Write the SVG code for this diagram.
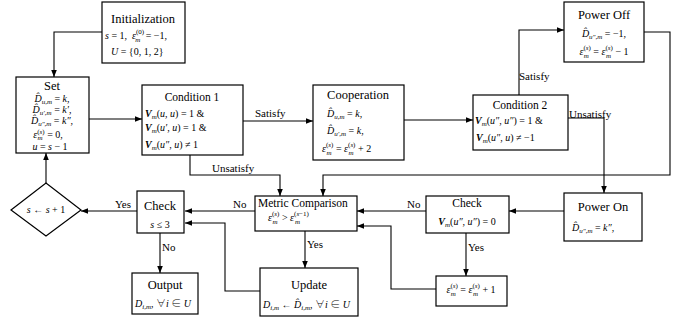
<svg xmlns="http://www.w3.org/2000/svg" width="691" height="324" viewBox="0 0 691 324" font-family="Tinos, 'Noto Serif CJK SC', 'DejaVu Serif', serif">
<style>
text{fill:#000;font-family:Tinos,'Noto Serif CJK SC','DejaVu Serif',serif}
.h{font-size:12.5px;text-anchor:middle}
.h2{font-size:11.5px;text-anchor:middle}
.m{font-size:10px}
.c{text-anchor:middle}
.i{font-style:italic}
.b{font-weight:bold;font-style:italic}
.s{font-size:7px}
.l{font-size:11px}
rect,polygon{fill:#fff;stroke:#000;stroke-width:1.2}
.e path{fill:none;stroke:#000;stroke-width:1.1;marker-end:url(#a)}
</style>
<defs>
<marker id="a" viewBox="0 0 10 10" refX="10" refY="5" markerWidth="7" markerHeight="7" markerUnits="userSpaceOnUse" orient="auto"><path d="M0,1 L10,5 L0,9 z" fill="#000"/></marker>
</defs>

<g class="e" id="connectors">
<path d="M102,32 H54 V77"/>
<path d="M89,119 H142"/>
<path d="M243,121 H313"/>
<path d="M404,120 H473"/>
<path d="M519,95 V30 H564"/>
<path d="M644,32 H670 V175 H323 V196"/>
<path d="M568,118 H604 V193"/>
<path d="M564,211 H509"/>
<path d="M426,211 H357"/>
<path d="M466,233 V276"/>
<path d="M436,289 H391 V226 H357"/>
<path d="M190,155 V175 H280 V196"/>
<path d="M255,211 H185"/>
<path d="M305,231 V268"/>
<path d="M260,291 H225 V223 H185"/>
<path d="M137,211 H81"/>
<path d="M46,183 V153"/>
<path d="M160,233 V273"/>
</g>

<g id="labels" class="l">
<text x="255" y="117">Satisfy</text>
<text x="212" y="172">Unsatisfy</text>
<text x="519" y="80">Satisfy</text>
<text x="569" y="118">Unsatisfy</text>
<text x="233" y="208">No</text>
<text x="407" y="208">No</text>
<text x="115" y="208">Yes</text>
<text x="307" y="248">Yes</text>
<text x="468" y="251">Yes</text>
<text x="162" y="251">No</text>
</g>

<g id="init">
<rect x="102" y="2" width="83" height="61"/>
<text class="h" x="143" y="23">Initialization</text>
<text class="m" x="105" y="39"><tspan class="i">s</tspan> = 1,<tspan class="i" dx="5">ε</tspan><tspan class="s" dy="-5">(0)</tspan><tspan class="s i" dx="-9" dy="8">m</tspan><tspan dy="-3" dx="3"> = −1,</tspan></text>
<text class="m" x="111" y="55"><tspan class="i">U</tspan> = {0, 1, 2}</text>
</g>

<g id="set">
<rect x="16" y="77" width="73" height="76"/>
<text class="h" x="52" y="90">Set</text>
<text class="m c" x="52" y="102"><tspan class="i">D̂</tspan><tspan class="s i" dy="2">u,m</tspan><tspan dy="-2"> = </tspan><tspan class="i">k</tspan>,</text>
<text class="m c" x="52" y="113"><tspan class="i">D̂</tspan><tspan class="s i" dy="2">u′,m</tspan><tspan dy="-2"> = </tspan><tspan class="i">k′</tspan>,</text>
<text class="m c" x="52" y="124"><tspan class="i">D̂</tspan><tspan class="s i" dy="2">u″,m</tspan><tspan dy="-2"> = </tspan><tspan class="i">k″</tspan>,</text>
<text class="m c" x="48" y="138"><tspan class="i">ε</tspan><tspan class="s" dy="-4">(</tspan><tspan class="s i">s</tspan><tspan class="s">)</tspan><tspan class="s i" dx="-7" dy="6">m</tspan><tspan dy="-2" dx="2"> = 0,</tspan></text>
<text class="m c" x="50" y="150"><tspan class="i">u</tspan> = <tspan class="i">s</tspan> − 1</text>
</g>

<g id="cond1">
<rect x="142" y="85" width="101" height="70"/>
<text class="h2" x="192" y="101">Condition 1</text>
<text class="m" x="145" y="117"><tspan class="b">V</tspan><tspan class="s i" dy="2">m</tspan><tspan dy="-2">(</tspan><tspan class="i">u</tspan>, <tspan class="i">u</tspan>) = 1 &amp;</text>
<text class="m" x="145" y="131"><tspan class="b">V</tspan><tspan class="s i" dy="2">m</tspan><tspan dy="-2">(</tspan><tspan class="i">u′</tspan>, <tspan class="i">u</tspan>) = 1 &amp;</text>
<text class="m" x="145" y="148"><tspan class="b">V</tspan><tspan class="s i" dy="2">m</tspan><tspan dy="-2">(</tspan><tspan class="i">u″</tspan>, <tspan class="i">u</tspan>) ≠ 1</text>
</g>

<g id="coop">
<rect x="313" y="85" width="91" height="75"/>
<text class="h" x="358" y="99">Cooperation</text>
<text class="m" x="327" y="117"><tspan class="i">D̂</tspan><tspan class="s i" dy="2">u,m</tspan><tspan dy="-2"> = </tspan><tspan class="i">k</tspan>,</text>
<text class="m" x="327" y="134"><tspan class="i">D̂</tspan><tspan class="s i" dy="2">u′,m</tspan><tspan dy="-2"> = </tspan><tspan class="i">k</tspan>,</text>
<text class="m" x="322" y="152"><tspan class="i">ε</tspan><tspan class="s" dy="-5">(</tspan><tspan class="s i">s</tspan><tspan class="s">)</tspan><tspan class="s i" dx="-7" dy="8">m</tspan><tspan dy="-3" dx="2"> = </tspan><tspan class="i">ε</tspan><tspan class="s" dy="-5">(</tspan><tspan class="s i">s</tspan><tspan class="s">)</tspan><tspan class="s i" dx="-7" dy="8">m</tspan><tspan dy="-3" dx="2"> + 2</tspan></text>
</g>

<g id="cond2">
<rect x="473" y="95" width="95" height="55"/>
<text class="h2" x="520" y="109">Condition 2</text>
<text class="m" x="475" y="124"><tspan class="b">V</tspan><tspan class="s i" dy="2">m</tspan><tspan dy="-2">(</tspan><tspan class="i">u″</tspan>, <tspan class="i">u″</tspan>) = 1 &amp;</text>
<text class="m" x="476" y="141"><tspan class="b">V</tspan><tspan class="s i" dy="2">m</tspan><tspan dy="-2">(</tspan><tspan class="i">u″</tspan>, <tspan class="i">u</tspan>) ≠ −1</text>
</g>

<g id="poweroff">
<rect x="564" y="2" width="80" height="60"/>
<text class="h" x="604" y="19">Power Off</text>
<text class="m c" x="604" y="37"><tspan class="i">D̂</tspan><tspan class="s i" dy="2">u″,m</tspan><tspan dy="-2"> = −1,</tspan></text>
<text class="m c" x="604" y="55"><tspan class="i">ε</tspan><tspan class="s" dy="-5">(</tspan><tspan class="s i">s</tspan><tspan class="s">)</tspan><tspan class="s i" dx="-7" dy="8">m</tspan><tspan dy="-3" dx="2"> = </tspan><tspan class="i">ε</tspan><tspan class="s" dy="-5">(</tspan><tspan class="s i">s</tspan><tspan class="s">)</tspan><tspan class="s i" dx="-7" dy="8">m</tspan><tspan dy="-3" dx="2"> − 1</tspan></text>
</g>

<g id="poweron">
<rect x="564" y="193" width="78" height="48"/>
<text class="h" x="603" y="211">Power On</text>
<text class="m" x="572" y="231"><tspan class="i">D̂</tspan><tspan class="s i" dy="2">u″,m</tspan><tspan dy="-2"> = </tspan><tspan class="i">k″</tspan>,</text>
</g>

<g id="check2">
<rect x="426" y="196" width="83" height="37"/>
<text class="h2" x="467" y="207">Check</text>
<text class="m c" x="467" y="225"><tspan class="b">V</tspan><tspan class="s i" dy="2">m</tspan><tspan dy="-2">(</tspan><tspan class="i">u″</tspan>, <tspan class="i">u″</tspan>) = 0</text>
</g>

<g id="epsinc">
<rect x="436" y="276" width="71" height="30"/>
<text class="m c" x="471" y="293"><tspan class="i">ε</tspan><tspan class="s" dy="-5">(</tspan><tspan class="s i">s</tspan><tspan class="s">)</tspan><tspan class="s i" dx="-7" dy="8">m</tspan><tspan dy="-3" dx="2"> = </tspan><tspan class="i">ε</tspan><tspan class="s" dy="-5">(</tspan><tspan class="s i">s</tspan><tspan class="s">)</tspan><tspan class="s i" dx="-7" dy="8">m</tspan><tspan dy="-3" dx="2"> + 1</tspan></text>
</g>

<g id="metric">
<rect x="255" y="196" width="102" height="35"/>
<text x="258" y="207" style="font-size:11.5px">Metric Comparison</text>
<text class="m" x="268" y="221"><tspan class="i">ε</tspan><tspan class="s" dy="-5">(</tspan><tspan class="s i">s</tspan><tspan class="s">)</tspan><tspan class="s i" dx="-7" dy="8">m</tspan><tspan dy="-3" dx="2"> &gt; </tspan><tspan class="i">ε</tspan><tspan class="s" dy="-5">(</tspan><tspan class="s i">s</tspan><tspan class="s">−1)</tspan><tspan class="s i" dx="-14" dy="8">m</tspan></text>
</g>

<g id="update">
<rect x="260" y="268" width="98" height="48"/>
<text class="h" x="309" y="289">Update</text>
<text class="m" x="263" y="308"><tspan class="i">D</tspan><tspan class="s i" dy="2">i,m</tspan><tspan dy="-2"> ← </tspan><tspan class="i">D̂</tspan><tspan class="s i" dy="2">i,m</tspan><tspan dy="-2">, ∀</tspan><tspan class="i">i</tspan> ∈ <tspan class="i">U</tspan></text>
</g>

<g id="check1">
<rect x="137" y="191" width="47" height="42"/>
<text class="h" x="160" y="210">Check</text>
<text class="m c" x="160" y="228"><tspan class="i">s</tspan> ≤ 3</text>
</g>

<g id="output">
<rect x="132" y="273" width="66" height="41"/>
<text class="h" x="165" y="289">Output</text>
<text class="m" x="135" y="307"><tspan class="i">D</tspan><tspan class="s i" dy="2">i,m</tspan><tspan dy="-2">, ∀</tspan><tspan class="i">i</tspan> ∈ <tspan class="i">U</tspan></text>
</g>

<g id="incr">
<polygon points="11,210 46,183 81,210 46,236"/>
<text class="m c" x="46" y="213"><tspan class="i">s</tspan> ← <tspan class="i">s</tspan> + 1</text>
</g>
</svg>
